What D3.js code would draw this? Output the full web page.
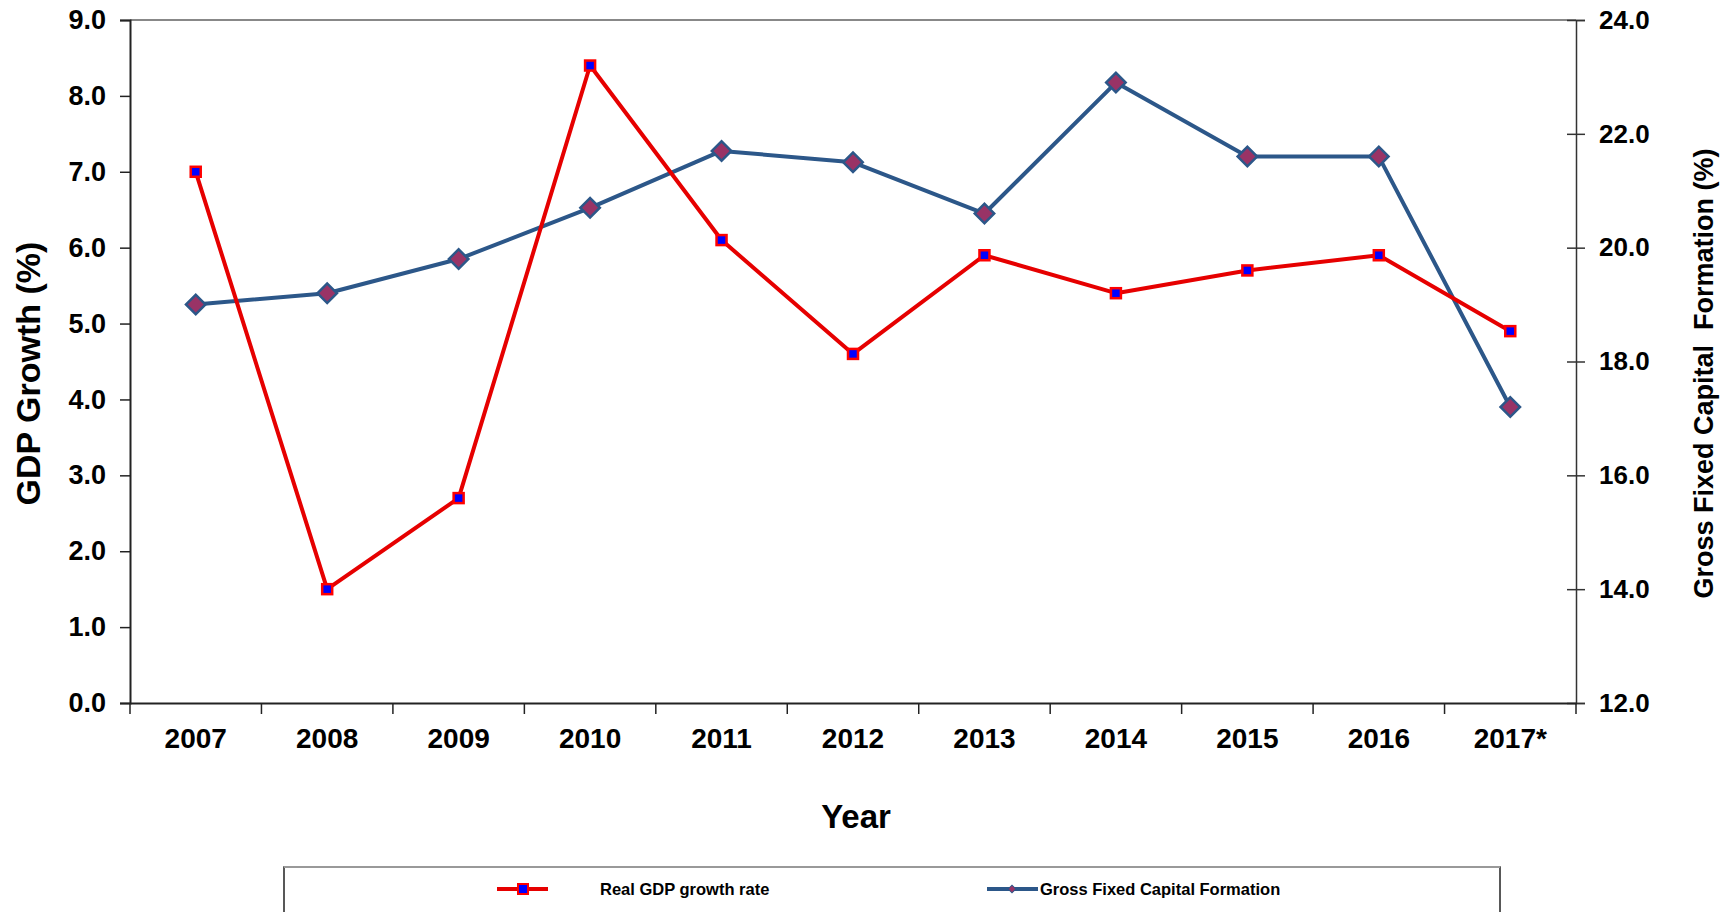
<!DOCTYPE html>
<html><head><meta charset="utf-8">
<script src="https://cdn.jsdelivr.net/npm/d3@7/dist/d3.min.js"></script>
<style>body{margin:0;background:#fff}svg{display:block;font-family:Arial,"Liberation Sans",sans-serif}</style>
</head><body>
<svg id="c" width="1728" height="912"></svg>
<script>
const years = ["2007","2008","2009","2010","2011","2012","2013","2014","2015","2016","2017*"];
const gdpGrowth = [7.0,1.5,2.7,8.4,6.1,4.6,5.9,5.4,5.7,5.9,4.9];
const gfcf = [19.0,19.2,19.8,20.7,21.7,21.5,20.6,22.9,21.6,21.6,17.2];
const leftTicks = [0,1,2,3,4,5,6,7,8,9];
const rightTicks = [12,14,16,18,20,22,24];

const svg = d3.select("#c");
const L=130, R=1576, T=20, B=703;
const x = d3.scaleBand().domain(years).range([L,R]);
const yL = d3.scaleLinear().domain([0,9]).range([B,T]);
const yR = d3.scaleLinear().domain([12,24]).range([B,T]);

// top border
svg.append("line").attr("x1",L).attr("x2",R).attr("y1",T).attr("y2",T).attr("stroke","#888").attr("stroke-width",2);

// left axis
const gl = svg.append("g").attr("transform",`translate(${L},0)`)
  .call(d3.axisLeft(yL).tickValues(leftTicks).tickFormat(d3.format(".1f")).tickSizeOuter(0).tickSize(10).tickPadding(14));
gl.select(".domain").attr("stroke","#222").attr("stroke-width",2);
gl.selectAll(".tick line").attr("stroke","#222").attr("stroke-width",1.5);
gl.selectAll("text").attr("font-size",27).attr("font-weight","bold").attr("fill","#000");

// right axis
const gr = svg.append("g").attr("transform",`translate(${R},0)`)
  .call(d3.axisRight(yR).tickValues(rightTicks).tickFormat(d3.format(".1f")).tickSizeOuter(0).tickSize(9).tickPadding(14));
gr.select(".domain").attr("stroke","#333").attr("stroke-width",1.5);
gr.selectAll(".tick line").attr("stroke","#333").attr("stroke-width",1.5).attr("x1",-9);
gr.selectAll("text").attr("font-size",26).attr("font-weight","bold").attr("fill","#000");

// bottom axis
const gb = svg.append("g").attr("transform",`translate(0,${B})`)
  .call(d3.axisBottom(x).tickSize(0).tickPadding(25));
gb.select(".domain").attr("stroke","#222").attr("stroke-width",2);
gb.selectAll("text").attr("font-size",28).attr("font-weight","bold").attr("fill","#000");
const bounds = years.map((d,i)=>x(d)).concat([R]);
gb.selectAll(".bt").data(bounds).enter().append("line")
  .attr("x1",d=>d).attr("x2",d=>d).attr("y1",0).attr("y2",11).attr("stroke","#222").attr("stroke-width",1.5);

const cx = d => x(d)+x.bandwidth()/2;

// GFCF line
svg.append("path").datum(gfcf)
  .attr("d", d3.line().x((d,i)=>cx(years[i])).y(d=>yR(d)))
  .attr("fill","none").attr("stroke","#2C5789").attr("stroke-width",4).attr("stroke-linejoin","round");
// GDP line
svg.append("path").datum(gdpGrowth)
  .attr("d", d3.line().x((d,i)=>cx(years[i])).y(d=>yL(d)))
  .attr("fill","none").attr("stroke","#E60000").attr("stroke-width",4).attr("stroke-linejoin","round");

// markers GDP squares
svg.selectAll(".sq").data(gdpGrowth).enter().append("rect")
  .attr("x",(d,i)=>cx(years[i])-5).attr("y",d=>yL(d)-5).attr("width",10).attr("height",10)
  .attr("fill","#0000FF").attr("stroke","#FF0000").attr("stroke-width",2.5);
// diamonds GFCF
svg.selectAll(".dm").data(gfcf).enter().append("path")
  .attr("d", d3.symbol().type(d3.symbolSquare).size(190))
  .attr("transform",(d,i)=>`translate(${cx(years[i])},${yR(d)}) rotate(45)`)
  .attr("fill","#993366").attr("stroke","#2C5789").attr("stroke-width",2.5);

// axis titles
svg.append("text").attr("transform",`translate(40,${(T+B)/2+12}) rotate(-90)`)
  .attr("text-anchor","middle").attr("font-size",34).attr("font-weight","bold").text("GDP Growth (%)");
svg.append("text").attr("transform",`translate(1713,${(T+B)/2+12}) rotate(-90)`)
  .attr("text-anchor","middle").attr("font-size",27).attr("font-weight","bold").attr("xml:space","preserve").text("Gross Fixed Capital  Formation (%)");
svg.append("text").attr("x",(L+R)/2+3).attr("y",828).attr("text-anchor","middle")
  .attr("font-size",33).attr("font-weight","bold").text("Year");

// legend
svg.append("rect").attr("x",284).attr("y",867).attr("width",1216).attr("height",80)
  .attr("fill","#fff").attr("stroke","#222").attr("stroke-width",1.5);
svg.append("line").attr("x1",284).attr("x2",1500).attr("y1",867).attr("y2",867).attr("stroke","#999").attr("stroke-width",2);
svg.append("line").attr("x1",497).attr("x2",548).attr("y1",889).attr("y2",889).attr("stroke","#E60000").attr("stroke-width",4);
svg.append("rect").attr("x",518).attr("y",884).attr("width",10).attr("height",10).attr("fill","#0000FF").attr("stroke","#FF0000").attr("stroke-width",2);
svg.append("text").attr("x",600).attr("y",895).attr("font-size",16.5).attr("font-weight","bold").text("Real GDP growth rate");
svg.append("line").attr("x1",987).attr("x2",1038).attr("y1",889).attr("y2",889).attr("stroke","#2C5789").attr("stroke-width",4);
svg.append("path").attr("d", d3.symbol().type(d3.symbolSquare).size(30)).attr("transform","translate(1012,889) rotate(45)").attr("fill","#993366").attr("stroke","#2C5789").attr("stroke-width",1);
svg.append("text").attr("x",1040).attr("y",895).attr("font-size",16.5).attr("font-weight","bold").text("Gross Fixed Capital Formation");
</script>
</body></html>
